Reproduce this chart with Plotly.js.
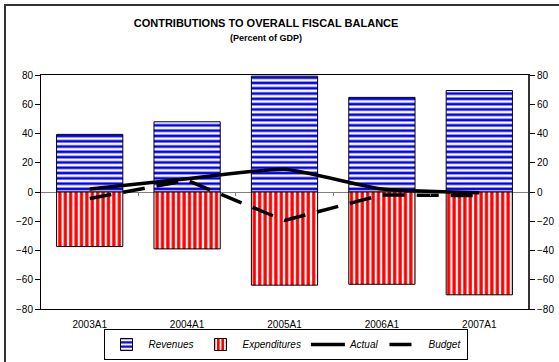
<!DOCTYPE html>
<html>
<head>
<meta charset="utf-8">
<script src="https://cdn.plot.ly/plotly-3.0.1.min.js"></script>
<style>
html,body{margin:0;padding:0;background:#fff;}
#chart{width:559px;height:362px;}
</style>
</head>
<body>
<div id="chart"></div>
<script>
// Data
var categories = ["2003A1", "2004A1", "2005A1", "2006A1", "2007A1"];
var revenues = [39.4, 48, 79.2, 64.7, 69.4];
var expenditures = [-37.3, -38.9, -63.7, -63.1, -70.3];
var actual = [2, 9, 15.5, 2, -0.5];
var budget = [-4.5, 8, -19.5, -2, -2.5];
var yTicks = [-80, -60, -40, -20, 0, 20, 40, 60, 80];

var tickFont = {family: "Arial, Liberation Sans, sans-serif", size: 10, color: "#000"};

var traces = [
  {
    type: "bar", name: "Revenues", x: categories, y: revenues,
    width: 0.68,
    marker: {
      color: "#ffffff",
      line: {color: "#000", width: 1},
      pattern: {shape: "-", fgcolor: "#0000ff", bgcolor: "#ffffff", size: 5.3, solidity: 0.5}
    },
    hoverinfo: "skip"
  },
  {
    type: "bar", name: "Expenditures", x: categories, y: expenditures,
    width: 0.68,
    marker: {
      color: "#ffffff",
      line: {color: "#000", width: 1},
      pattern: {shape: "|", fgcolor: "#ff0000", bgcolor: "#ffffff", size: 5.4, solidity: 0.6}
    },
    hoverinfo: "skip"
  },
  {
    type: "scatter", mode: "lines", name: "Actual", x: categories, y: actual,
    line: {color: "#000", width: 3.5, shape: "spline", smoothing: 0.5},
    hoverinfo: "skip"
  },
  {
    type: "scatter", mode: "lines", name: "Budget", x: categories, y: budget,
    line: {color: "#000", width: 3.5, dash: "22px,12px"},
    hoverinfo: "skip"
  }
];

var layout = {
  width: 559, height: 362,
  margin: {l: 41, r: 31, t: 75, b: 53, autoexpand: false},
  paper_bgcolor: "#fff", plot_bgcolor: "#fff",
  barmode: "relative",
  showlegend: true,
  font: {family: "Arial, Liberation Sans, sans-serif", color: "#000"},
  title: {
    text: "<b>CONTRIBUTIONS TO OVERALL FISCAL BALANCE</b>",
    font: {size: 11, color: "#000"},
    xref: "container", x: 0.476, xanchor: "center",
    yref: "container", y: 1 - 23/362, yanchor: "middle"
  },
  annotations: [{
    text: "<b>(Percent of GDP)</b>", xref: "paper", yref: "paper",
    x: (266 - 41) / 487, y: (309 - 38) / 234, xanchor: "center", yanchor: "middle",
    showarrow: false, font: {size: 9, color: "#000"}
  }],
  xaxis: {
    type: "category", categoryarray: categories, range: [-0.5, 4.5],
    showline: true, linecolor: "#000", linewidth: 1, mirror: true,
    ticks: "", showgrid: false, zeroline: false,
    tickfont: tickFont, ticklabelstandoff: 6
  },
  xaxis2: {
    overlaying: "x", anchor: "free", position: 0.5,
    range: [-0.5, 4.5], type: "linear",
    tickvals: [0.5, 1.5, 2.5, 3.5], ticks: "outside", ticklen: 3, tickcolor: "#808080", tickwidth: 1,
    showticklabels: false, showline: false, showgrid: false, zeroline: false
  },
  yaxis: {
    range: [-80, 80], tickvals: yTicks,
    showline: true, linecolor: "#000", linewidth: 1,
    ticks: "outside", ticklen: 5, tickcolor: "#000",
    showgrid: false, zeroline: true, zerolinecolor: "#808080", zerolinewidth: 1,
    tickfont: tickFont
  },
  yaxis2: {
    overlaying: "y", side: "right", anchor: "x",
    range: [-80, 80], tickvals: yTicks,
    showline: true, linecolor: "#333", linewidth: 2,
    ticks: "outside", ticklen: 5, tickcolor: "#000",
    showgrid: false, zeroline: false,
    tickfont: tickFont
  },
  legend: {
    orientation: "h", x: (285.5 - 41) / 487, xanchor: "center",
    y: (309 - 329) / 234, yanchor: "top",
    bordercolor: "#000", borderwidth: 1, bgcolor: "#fff",
    font: {size: 10, style: "italic", color: "#000"},
    itemwidth: 34, tracegroupgap: 0, traceorder: "normal"
  },
  shapes: [{
    type: "rect", xref: "paper", yref: "paper",
    x0: (5 - 41) / 487, x1: (565 - 41) / 487,
    y0: (309 - 5) / 234, y1: (309 - 368) / 234,
    line: {color: "#333", width: 2}, fillcolor: "rgba(0,0,0,0)"
  }]
};

// dummy traces to activate yaxis2 and xaxis2
traces.push({type: "scatter", x: [null], y: [null], yaxis: "y2", showlegend: false, hoverinfo: "skip"});
traces.push({type: "scatter", x: [null], y: [null], xaxis: "x2", showlegend: false, hoverinfo: "skip"});

Plotly.newPlot("chart", traces, layout, {staticPlot: true, displayModeBar: false});
</script>
</body>
</html>
